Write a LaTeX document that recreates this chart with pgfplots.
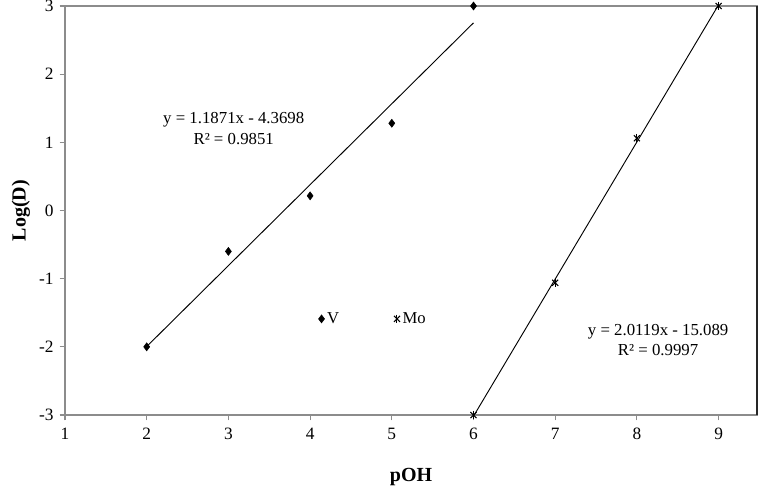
\documentclass[border=0pt]{standalone}
\usepackage{fontspec}
\setmainfont{Liberation Serif}
\usepackage{pgfplots}
\pgfplotsset{compat=1.18}

\definecolor{axisgray}{RGB}{140,140,140}

\begin{document}
\begin{tikzpicture}[x=1pt,y=1pt]
\begin{axis}[
    at={(0,0)}, anchor=south west,
    scale only axis,
    width=519pt, height=306.75pt,
    xmin=1, xmax=9.47,
    ymin=-3, ymax=3,
    xtick={1,...,9},
    ytick={-3,...,3},
    tick align=outside,
    major tick length=4pt,
    tick style={axisgray, line width=0.8pt},
    axis line style={axisgray, line width=1pt},
    ticklabel style={font=\fontsize{13}{15}\selectfont},
    xticklabel style={yshift=-2pt},
    yticklabel style={xshift=-1pt},
    /pgf/number format/assume math mode=true,
    xlabel={\textbf{pOH}},
    ylabel={\textbf{Log(D)}},
    xlabel style={font=\fontsize{15}{17}\selectfont, yshift=-15pt},
    ylabel style={font=\fontsize{15}{17}\selectfont, yshift=0pt},
    xtick pos=bottom, ytick pos=left,
    clip=true,
    legend style={
        at={(axis cs:4.10,-1.59)}, anchor=west,
        draw=none, fill=none,
        legend columns=2,
        font=\fontsize{12.5}{14}\selectfont,
        /tikz/every even column/.append style={column sep=39pt},
        inner sep=0pt,
    },
    legend cell align=left,
]

% -------- V data --------
\addplot[only marks, mark=diamond*, mark size=3pt, black] coordinates {
    (2,-2.00)
    (3,-0.60)
    (4,0.215)
    (5,1.28)
    (6,3.00)
};
\addlegendentry{V}

% -------- Mo data --------
\addplot[only marks, mark=x, mark size=3.2pt, black, line width=0.8pt,
    legend image code/.code={
        \draw[black, line width=0.8pt] (0.3cm,0pt) plot[mark=x, mark size=3.2pt] coordinates {(0.3cm,0pt)};
        \draw[black, line width=0.8pt] (0.3cm,0pt) plot[mark=|, mark size=3.2pt] coordinates {(0.3cm,0pt)};
    }] coordinates {
    (6,-3.00)
    (7,-1.06)
    (8,1.06)
    (9,3.00)
};
\addlegendentry{Mo}
\addplot[only marks, mark=|, mark size=3.2pt, black, line width=0.8pt, forget plot] coordinates {
    (6,-3.00)
    (7,-1.06)
    (8,1.06)
    (9,3.00)
};

% -------- trend lines --------
\addplot[black, line width=0.7pt, forget plot] coordinates {(2,-1.9956) (6,2.7528)};
\addplot[black, line width=0.7pt, forget plot] coordinates {(6,-3.0176) (9,3.0181)};

\node[align=center, font=\fontsize{12.6}{15.5}\selectfont] at (axis cs:3.065,1.2)
    {y = 1.1871x - 4.3698\\R² = 0.9851};
\node[align=center, font=\fontsize{12.6}{15.5}\selectfont] at (axis cs:8.26,-1.9)
    {y = 2.0119x - 15.089\\R² = 0.9997};

\end{axis}
% right border drawn dark as in the reference
\draw[black!85, line width=1pt] (519pt,0) -- (519pt,306.75pt);
\pgfresetboundingbox
\path (-48.75pt,-54pt) rectangle (520.5pt,311.25pt);
\end{tikzpicture}
\end{document}
